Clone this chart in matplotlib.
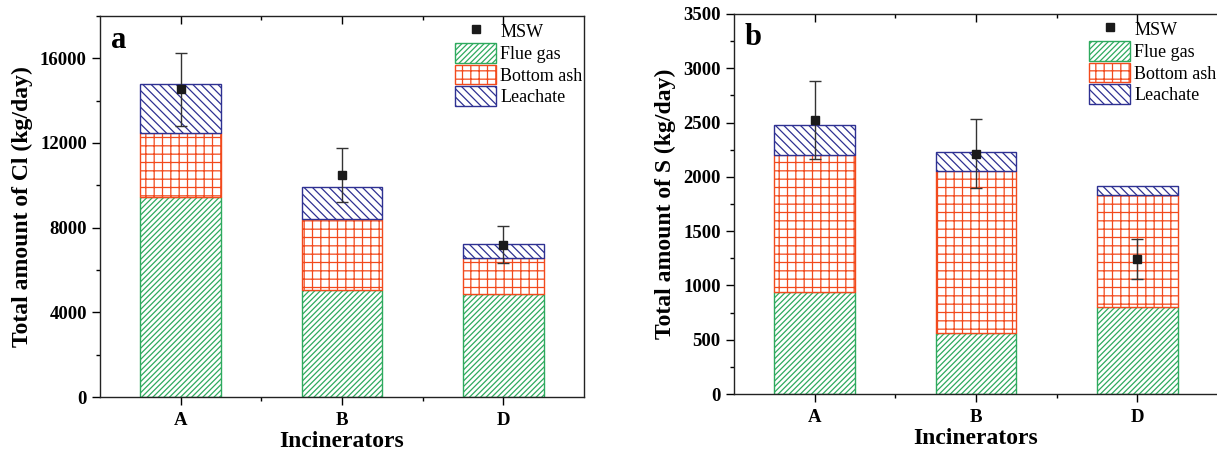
import matplotlib
matplotlib.use("Agg")
import matplotlib.pyplot as plt
import numpy as np
from matplotlib.ticker import MultipleLocator, FixedLocator
from matplotlib.patches import Patch
from matplotlib.lines import Line2D

plt.rcParams['font.family'] = ['Liberation Serif', 'DejaVu Serif']
plt.rcParams['hatch.linewidth'] = 0.9

categories = ["A", "B", "D"]

cl_flue_gas = [9450, 5070, 4870]
cl_bottom_ash = [3000, 3350, 1710]
cl_leachate = [2320, 1520, 660]
cl_msw = [14530, 10500, 7200]
cl_msw_err = [1730, 1270, 860]

s_flue_gas = [935, 565, 800]
s_bottom_ash = [1265, 1490, 1035]
s_leachate = [275, 175, 85]
s_msw = [2520, 2215, 1245]
s_msw_err = [360, 315, 185]

green = "#2eaa5e"
red = "#f24a1d"
blue = "#2e3192"

fig = plt.figure(figsize=(12.17, 4.53), dpi=100)
ax1 = fig.add_axes([0.0822, 0.1236, 0.3977, 0.8411])
ax2 = fig.add_axes([0.6031, 0.1302, 0.3977, 0.8389])


def draw(ax, flue, bottom, leach, msw, err, ylim, major, minor, ylabel, tag):
    x = np.arange(1, len(categories) + 1)
    w = 0.5
    ax.bar(x, flue, w, color="white", edgecolor=green, hatch="//////", linewidth=1.0)
    b1 = np.array(flue)
    ax.bar(x, bottom, w, bottom=b1, color="white", edgecolor=red, hatch="++", linewidth=1.0)
    b2 = b1 + np.array(bottom)
    ax.bar(x, leach, w, bottom=b2, color="white", edgecolor=blue, hatch="\\\\\\\\", linewidth=1.0)
    ax.errorbar(x, msw, yerr=err, fmt="s", color="#1a1a1a", markersize=6,
                ecolor="#333333", elinewidth=1.0, capsize=4, capthick=1.0)
    ax.set_xlim(0.5, 3.5)
    ax.set_ylim(*ylim)
    ax.set_xticks(x)
    ax.set_xticklabels(categories)
    ax.xaxis.set_minor_locator(FixedLocator([1.5, 2.5]))
    ax.yaxis.set_major_locator(MultipleLocator(major))
    ax.yaxis.set_minor_locator(MultipleLocator(minor))
    ax.tick_params(axis="both", which="major", direction="out", length=6, width=1.0,
                   labelsize=13.5, top=True, right=False)
    ax.tick_params(axis="both", which="minor", direction="out", length=3, width=1.0,
                   top=True, right=False)
    ax.tick_params(axis="x", which="major", pad=5)
    # top ticks point inward
    for t in ax.xaxis.get_major_ticks() + ax.xaxis.get_minor_ticks():
        t.tick2line.set_marker(3)
    for lab in ax.get_xticklabels() + ax.get_yticklabels():
        lab.set_fontweight("bold")
    for sp in ax.spines.values():
        sp.set_linewidth(1.0)
        sp.set_color("#222222")
    ax.set_xlabel("Incinerators", fontsize=17, fontweight="bold", labelpad=1)
    ax.set_ylabel(ylabel, fontsize=17, fontweight="bold", labelpad=5)
    ax.text(0.022, 0.975, tag, transform=ax.transAxes, fontsize=22, fontweight="bold",
            va="top", ha="left")
    handles = [
        Line2D([], [], marker="s", linestyle="none", color="#1a1a1a", markersize=6),
        Patch(facecolor="white", edgecolor=green, hatch="//////"),
        Patch(facecolor="white", edgecolor=red, hatch="++"),
        Patch(facecolor="white", edgecolor=blue, hatch="\\\\\\\\"),
    ]
    ax.legend(handles, ["MSW", "Flue gas", "Bottom ash", "Leachate"], loc="upper right",
              frameon=False, fontsize=13, handlelength=2.3, handleheight=1.3,
              labelspacing=0.1, handletextpad=0.22, borderaxespad=0.0,
              bbox_to_anchor=(1.012, 1.005))


draw(ax1, cl_flue_gas, cl_bottom_ash, cl_leachate, cl_msw, cl_msw_err,
     (0, 18000), 4000, 2000, "Total amount of Cl (kg/day)", "a")
draw(ax2, s_flue_gas, s_bottom_ash, s_leachate, s_msw, s_msw_err,
     (0, 3500), 500, 250, "Total amount of S (kg/day)", "b")

fig.savefig("out.png", dpi=100)
